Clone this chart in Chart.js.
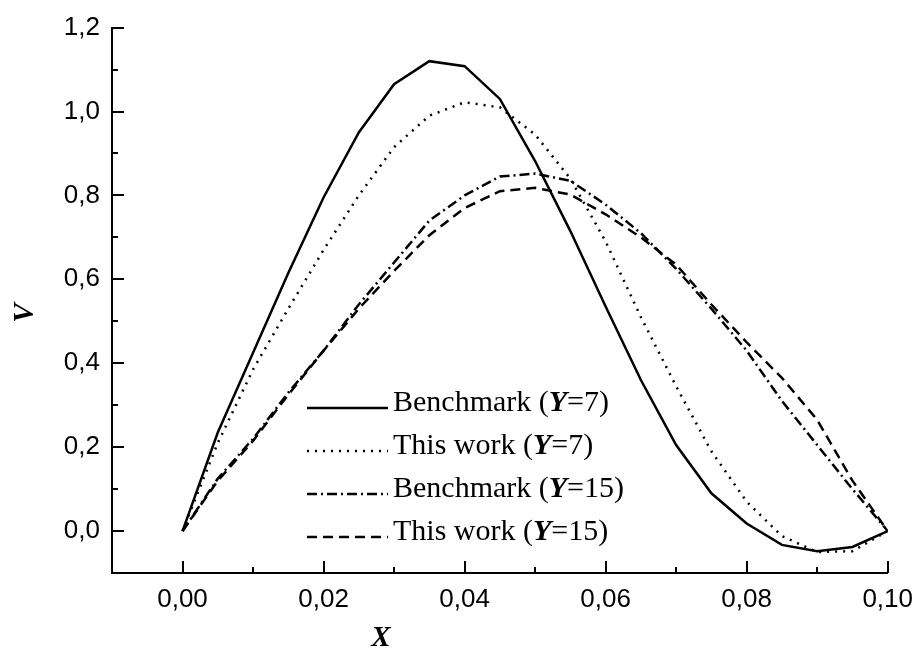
<!DOCTYPE html>
<html>
<head>
<meta charset="utf-8">
<script src="https://cdn.jsdelivr.net/npm/chart.js@4.4.1/dist/chart.umd.min.js"></script>
<style>
  html, body { margin: 0; padding: 0; background: #fff; }
  #wrap { width: 924px; height: 664px; }
</style>
</head>
<body>
<div id="wrap"><canvas id="chart" width="924" height="664"></canvas></div>
<script>
// velocity profiles V(X)
const xValues = [0, 0.005, 0.01, 0.015, 0.02, 0.025, 0.03, 0.035, 0.04, 0.045, 0.05,
  0.055, 0.06, 0.065, 0.07, 0.075, 0.08, 0.085, 0.09, 0.095, 0.1];
const benchY7 = [0, 0.235, 0.425, 0.615, 0.795, 0.95, 1.065, 1.12, 1.108, 1.03, 0.882,
  0.715, 0.535, 0.36, 0.205, 0.09, 0.018, -0.033, -0.048, -0.038, 0];
const workY7 = [0, 0.21, 0.385, 0.53, 0.67, 0.8, 0.915, 0.99, 1.022, 1.01, 0.945,
  0.84, 0.69, 0.51, 0.345, 0.19, 0.07, -0.012, -0.05, -0.048, 0];
const benchY15 = [0, 0.125, 0.22, 0.33, 0.43, 0.54, 0.64, 0.74, 0.8, 0.845, 0.852,
  0.835, 0.778, 0.71, 0.625, 0.53, 0.43, 0.31, 0.205, 0.1, 0];
const workY15 = [0, 0.12, 0.215, 0.325, 0.43, 0.53, 0.62, 0.705, 0.77, 0.81, 0.818,
  0.802, 0.755, 0.7, 0.635, 0.54, 0.45, 0.365, 0.265, 0.12, 0];

const seriesNames = ["Benchmark", "This work", "Benchmark", "This work"];
const seriesY = [7, 7, 15, 15];

const xTickValues = [0, 0.02, 0.04, 0.06, 0.08, 0.1];
const yTickValues = [0, 0.2, 0.4, 0.6, 0.8, 1.0, 1.2];

const sans = "'Liberation Sans', Arial, sans-serif";
const serif = "'Liberation Serif', 'Times New Roman', serif";

const toPoints = (ys) => xValues.map((x, i) => ({ x: x, y: ys[i] }));
const comma = (v, d) => v.toFixed(d).replace(".", ",");

const styles = [
  { dash: [] },
  { dash: [2, 6] },
  { dash: [10, 4, 2, 4] },
  { dash: [10, 6] },
];

const datasets = [benchY7, workY7, benchY15, workY15].map((ys, i) => ({
  label: `${seriesNames[i]} (Y=${seriesY[i]})`,
  data: toPoints(ys),
  showLine: true,
  borderColor: "#000",
  borderWidth: 2.5,
  borderDash: styles[i].dash,
  pointRadius: 0,
  fill: false,
  tension: 0,
}));

// inward ticks, axis titles and the legend box
const decorations = {
  id: "decorations",
  afterDraw(chart) {
    const { ctx, chartArea, scales } = chart;
    const xs = scales.x;
    const ys = scales.y;
    ctx.save();
    ctx.strokeStyle = "#000";
    ctx.fillStyle = "#000";
    ctx.lineWidth = 2;
    ctx.setLineDash([]);
    const seg = (x1, y1, x2, y2) => {
      ctx.beginPath();
      ctx.moveTo(x1, y1);
      ctx.lineTo(x2, y2);
      ctx.stroke();
    };

    xTickValues.forEach((v, i) => {
      const px = Math.round(xs.getPixelForValue(v));
      seg(px, chartArea.bottom, px, chartArea.bottom - 12);
      if (i > 0) {
        const m = Math.round(xs.getPixelForValue((v + xTickValues[i - 1]) / 2));
        seg(m, chartArea.bottom, m, chartArea.bottom - 6);
      }
    });
    yTickValues.forEach((v, i) => {
      const py = Math.round(ys.getPixelForValue(v));
      seg(chartArea.left, py, chartArea.left + 12, py);
      if (i > 0) {
        const m = Math.round(ys.getPixelForValue((v + yTickValues[i - 1]) / 2));
        seg(chartArea.left, m, chartArea.left + 6, m);
      }
    });

    // axis titles
    ctx.font = `bold italic 29px ${serif}`;
    ctx.textAlign = "center";
    ctx.textBaseline = "alphabetic";
    ctx.fillText("X", 381, 646);
    ctx.save();
    ctx.translate(33, 313);
    ctx.rotate(-Math.PI / 2);
    ctx.fillText("V", 0, 0);
    ctx.restore();

    // legend
    ctx.textAlign = "left";
    chart.data.datasets.forEach((ds, i) => {
      const ly = 408 + i * 43;
      ctx.lineWidth = ds.borderWidth;
      ctx.setLineDash(ds.borderDash);
      seg(307, ly, 388, ly);
      ctx.setLineDash([]);
      const base = ly + 3;
      let tx = 393;
      const parts = [
        [`${seriesNames[i]} (`, `30px ${serif}`],
        ["Y", `bold italic 30px ${serif}`],
        [`=${seriesY[i]})`, `30px ${serif}`],
      ];
      parts.forEach(([t, f]) => {
        ctx.font = f;
        ctx.fillText(t, tx, base);
        tx += ctx.measureText(t).width;
      });
    });
    ctx.restore();
  },
};

const chart = new Chart(document.getElementById("chart"), {
  type: "scatter",
  data: { datasets: datasets },
  plugins: [decorations],
  options: {
    responsive: false,
    animation: false,
    devicePixelRatio: 1,
    layout: { padding: { top: 20, right: 33, left: 0, bottom: 0 } },
    plugins: {
      legend: { display: false },
      tooltip: { enabled: false },
    },
    scales: {
      x: {
        type: "linear",
        min: -0.01,
        max: 0.1,
        afterFit: (scale) => { scale.height = 91; },
        afterBuildTicks: (scale) => { scale.ticks = xTickValues.map((v) => ({ value: v })); },
        grid: { display: false, drawTicks: false },
        border: { display: true, color: "#000", width: 2 },
        ticks: {
          color: "#000",
          padding: 11,
          maxRotation: 0,
          font: { family: sans, size: 26 },
          callback: (v) => comma(v, 2),
        },
      },
      y: {
        type: "linear",
        min: -0.1,
        max: 1.2,
        afterFit: (scale) => { scale.width = 112; },
        afterBuildTicks: (scale) => { scale.ticks = yTickValues.map((v) => ({ value: v })); },
        grid: { display: false, drawTicks: false },
        border: { display: true, color: "#000", width: 2 },
        ticks: {
          color: "#000",
          padding: 12,
          font: { family: sans, size: 26 },
          callback: (v) => comma(v, 1),
        },
      },
    },
  },
});
</script>
</body>
</html>
